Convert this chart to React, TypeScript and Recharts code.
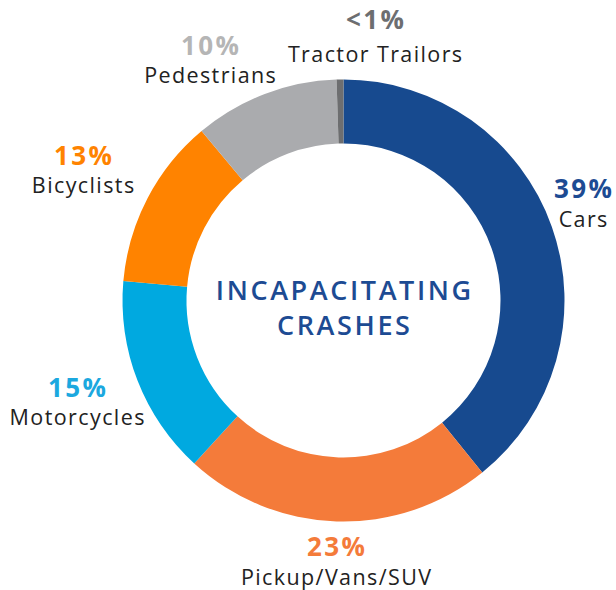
import React from "react";
import { PieChart, Pie, Cell } from "recharts";

const categories = ["Cars", "Pickup/Vans/SUV", "Motorcycles", "Bicyclists", "Pedestrians", "Tractor Trailors"];
const shares = [39.2, 22.6, 14.6, 12.5, 10.6, 0.5];
const pctLabels = ["39%", "23%", "15%", "13%", "10%", "<1%"];
const centerTitle = ["INCAPACITATING", "CRASHES"];

const sliceColors = ["#174A8F", "#F47B3A", "#00A9E0", "#FF8300", "#AAABAE", "#6D6E70"];
const pctColors = ["#1D4B93", "#F47B3A", "#1BA8DF", "#FF8300", "#B5B5B5", "#6D6E70"];

// label anchor positions (page coords): [x, pctBaseline, nameBaseline]
const labelPos: [number, number, number][] = [
  [583, 198, 227],
  [336, 556, 585],
  [77, 397, 425],
  [83, 165, 193],
  [210, 55, 83],
  [375, 29, 62],
];

const data = categories.map((name, i) => ({ name, value: shares[i] }));

const CX = 343.5;
const CY = 300.5;
const FONT = "'Open Sans', sans-serif";

const renderLabel = (props: any) => {
  const i = props.index;
  const [x, y1, y2] = labelPos[i];
  return (
    <g key={"lbl" + i}>
      <text x={x + 1.2} y={y1} textAnchor="middle" fill={pctColors[i]} fontFamily={FONT} fontWeight={700} fontSize={26} letterSpacing={2.4}>
        {pctLabels[i]}
      </text>
      <text x={x + 0.7} y={y2} textAnchor="middle" fill="#222222" fontFamily={FONT} fontSize={21.5} letterSpacing={1.4}>
        {categories[i]}
      </text>
    </g>
  );
};

export default function App() {
  return (
    <div style={{ position: "absolute", left: 0, top: 0, background: "#fff" }}>
      <PieChart width={616} height={590} margin={{ top: 0, right: 0, bottom: 0, left: 0 }}>
        <Pie
          data={data}
          dataKey="value"
          nameKey="name"
          cx={CX}
          cy={CY}
          innerRadius={157}
          outerRadius={221}
          startAngle={90}
          endAngle={-270}
          stroke="none"
          isAnimationActive={false}
          label={renderLabel}
          labelLine={false}
        >
          {data.map((d, i) => (
            <Cell key={d.name} fill={sliceColors[i]} />
          ))}
        </Pie>
        <text x={CX + 1.3} y={300} textAnchor="middle" fill="#1D4B93" fontFamily={FONT} fontWeight={600} fontSize={27} letterSpacing={2.6}>
          {centerTitle[0]}
        </text>
        <text x={CX + 1.3} y={335} textAnchor="middle" fill="#1D4B93" fontFamily={FONT} fontWeight={600} fontSize={27} letterSpacing={2.6}>
          {centerTitle[1]}
        </text>
      </PieChart>
    </div>
  );
}
